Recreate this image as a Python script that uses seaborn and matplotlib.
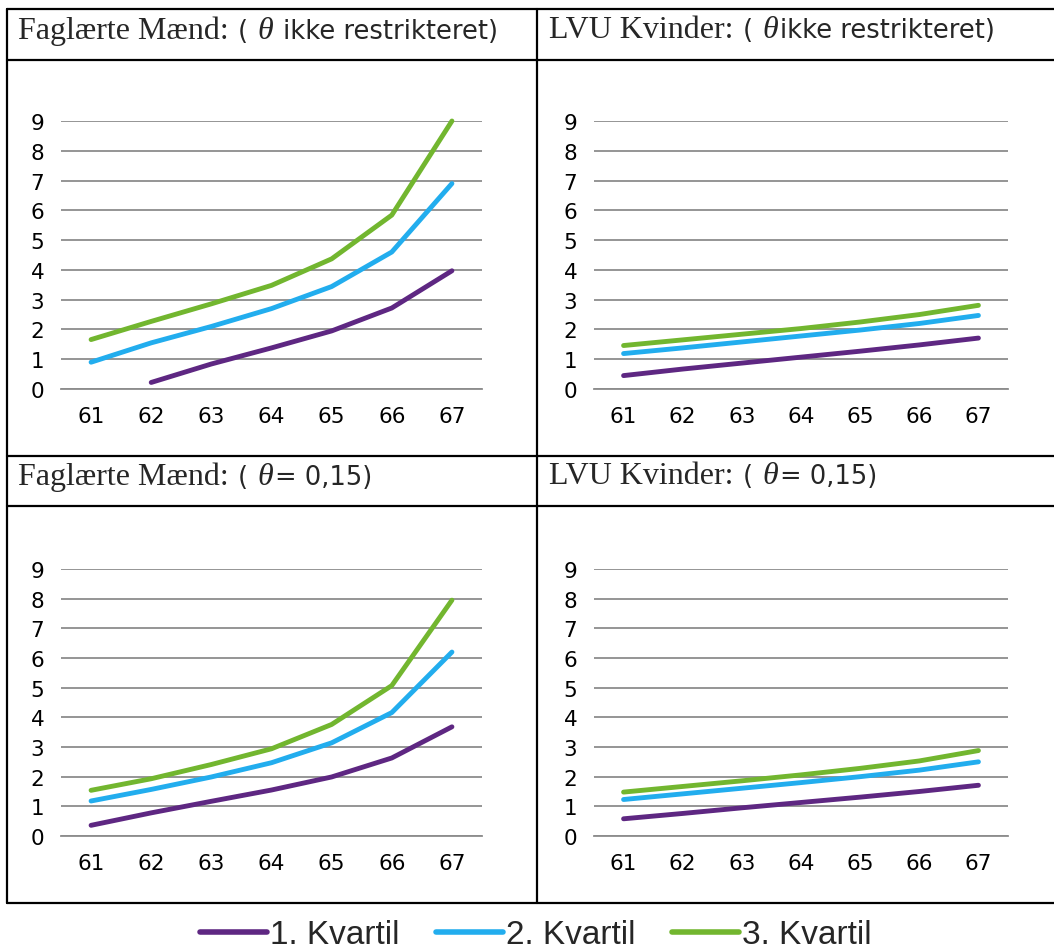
import numpy as np
import pandas as pd
import matplotlib
matplotlib.use("Agg")
import matplotlib.pyplot as plt
import seaborn as sns
from matplotlib.lines import Line2D
from matplotlib.offsetbox import TextArea, HPacker, AnchoredOffsetbox

# ========== data ==========
ages = [61, 62, 63, 64, 65, 66, 67]
series_names = ["1. Kvartil", "2. Kvartil", "3. Kvartil"]
colors = ["#5E2782", "#22ADEE", "#72B62F"]

# Faglærte Mænd, theta ikke restrikteret
fag_free_q1 = [np.nan, 0.22, 0.84, 1.38, 1.95, 2.72, 3.97]
fag_free_q2 = [0.90, 1.55, 2.10, 2.70, 3.44, 4.60, 6.90]
fag_free_q3 = [1.66, 2.27, 2.86, 3.48, 4.37, 5.84, 9.00]

# LVU Kvinder, theta ikke restrikteret
lvu_free_q1 = [0.45, 0.67, 0.87, 1.07, 1.27, 1.48, 1.71]
lvu_free_q2 = [1.19, 1.38, 1.58, 1.78, 1.98, 2.20, 2.47]
lvu_free_q3 = [1.46, 1.65, 1.84, 2.03, 2.25, 2.50, 2.81]

# Faglærte Mænd, theta = 0,15
fag_015_q1 = [0.36, 0.78, 1.17, 1.55, 1.99, 2.63, 3.68]
fag_015_q2 = [1.18, 1.57, 1.99, 2.47, 3.14, 4.16, 6.20]
fag_015_q3 = [1.54, 1.93, 2.41, 2.94, 3.76, 5.07, 7.95]

# LVU Kvinder, theta = 0,15
lvu_015_q1 = [0.58, 0.76, 0.95, 1.13, 1.31, 1.50, 1.71]
lvu_015_q2 = [1.23, 1.42, 1.61, 1.80, 2.00, 2.22, 2.50]
lvu_015_q3 = [1.48, 1.67, 1.86, 2.06, 2.28, 2.53, 2.88]

panel_titles = [
    ("Faglærte Mænd: ", "( ", "θ", " ikke restrikteret)"),
    ("LVU Kvinder: ", "( ", "θ", "ikke restrikteret)"),
    ("Faglærte Mænd: ", "( ", "θ", "= 0,15)"),
    ("LVU Kvinder: ", "( ", "θ", "= 0,15)"),
]
panel_data = [
    (fag_free_q1, fag_free_q2, fag_free_q3),
    (lvu_free_q1, lvu_free_q2, lvu_free_q3),
    (fag_015_q1, fag_015_q2, fag_015_q3),
    (lvu_015_q1, lvu_015_q2, lvu_015_q3),
]

# ========== layout (pixels) ==========
W, H = 1054, 953
def fx(px):
    return px / W
def fy(py):
    return 1 - py / H

# left, right, y of "9", y of "0"
AX_BOXES = [(61, 482, 122, 390), (594, 1008, 122, 390),
            (61, 482, 570, 837), (594, 1008, 570, 837)]
TITLE_POS = [(18, 31), (549, 31), (18, 477), (549, 477)]

sns.set_style("white")
plt.rcParams["font.family"] = ["DejaVu Sans"]

fig = plt.figure(figsize=(W / 100, H / 100), dpi=100)
fig.patch.set_facecolor("white")

GRID = "#8c8c8c"
handles = labels = None
for i, (box, vals) in enumerate(zip(AX_BOXES, panel_data)):
    l, r, t, b = box
    ax = fig.add_axes([fx(l), fy(b), fx(r) - fx(l), fy(t) - fy(b)])
    df = pd.DataFrame({
        "age": ages * 3,
        "value": np.concatenate(vals),
        "Kvartil": np.repeat(series_names, len(ages)),
    }).dropna()
    sns.lineplot(data=df, x="age", y="value", hue="Kvartil", palette=colors,
                 hue_order=series_names, linewidth=3.5, ax=ax, legend=(i == 0),
                 clip_on=False, solid_capstyle="round", errorbar=None)
    if i == 0:
        handles, labels = ax.get_legend_handles_labels()
        ax.get_legend().remove()
    ax.set_xlim(60.5, 67.5)
    ax.set_ylim(0, 9)
    ax.set_yticks(range(0, 10))
    ax.set_xticks(ages)
    ax.set_xticks(np.arange(60.5, 68, 1), minor=True)
    ax.yaxis.grid(True, color=GRID, linewidth=1.3)
    ax.xaxis.grid(False)
    ax.set_axisbelow(True)
    for s in ["top", "right", "left"]:
        ax.spines[s].set_visible(False)
    ax.spines["bottom"].set_color(GRID)
    ax.spines["bottom"].set_linewidth(1.3)
    ax.tick_params(axis="x", which="major", length=0, pad=12, labelsize=15.5,
                   labelcolor="black")
    ax.tick_params(axis="x", which="minor", length=6, width=1.3, color=GRID,
                   direction="out")
    ax.tick_params(axis="y", length=0, pad=12, labelsize=15.5, labelcolor="black")
    ax.set_xlabel("")
    ax.set_ylabel("")
    ax.patch.set_alpha(0)

# ========== titles ==========
for (serif, paren, theta, rest), (px, py) in zip(panel_titles, TITLE_POS):
    parts = [
        TextArea(serif, textprops=dict(family="Liberation Serif", size=23)),
        TextArea(paren, textprops=dict(family="DejaVu Sans", size=18.5)),
        TextArea(theta, textprops=dict(family="Liberation Serif", size=23,
                                       style="italic")),
        TextArea(rest, textprops=dict(family="DejaVu Sans", size=18.5)),
    ]
    pack = HPacker(children=parts, align="baseline", pad=0, sep=1)
    anc = AnchoredOffsetbox(loc="center left", child=pack, pad=0, borderpad=0,
                            frameon=False, bbox_to_anchor=(fx(px), fy(py)),
                            bbox_transform=fig.transFigure)
    fig.add_artist(anc)

# ========== table lines ==========
LW = 1.6
for yy in [10, 61, 457, 507, 904]:
    fig.add_artist(Line2D([fx(7), 1], [fy(yy), fy(yy)], color="black",
                          linewidth=LW, transform=fig.transFigure))
for xx in [7, 537]:
    fig.add_artist(Line2D([fx(xx), fx(xx)], [fy(10), fy(904)], color="black",
                          linewidth=LW, transform=fig.transFigure))

# ========== legend ==========
leg = fig.legend(handles, labels, loc="center", ncol=3,
                 bbox_to_anchor=(fx(536), fy(936)), frameon=False,
                 prop=dict(family="Liberation Sans", size=24),
                 handlelength=2.0, handletextpad=0.1, columnspacing=1.1,
                 borderpad=0)
for lh in leg.get_lines():
    lh.set_linewidth(4)

fig.savefig("out.png", dpi=100, facecolor="white")
